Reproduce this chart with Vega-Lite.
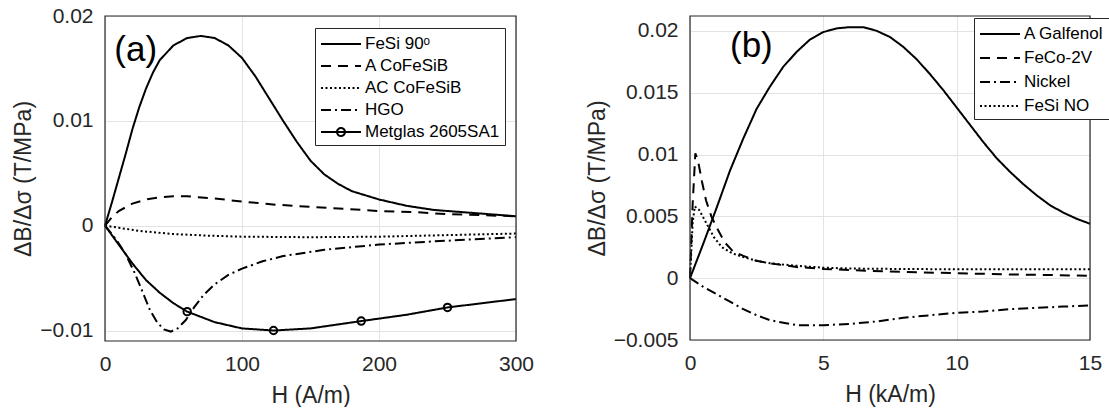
{
  "$schema": "https://vega.github.io/schema/vega-lite/v6.json",
  "padding": {"left": 12, "top": 5, "right": 0, "bottom": 0},
  "spacing": 52,
  "config": {
    "font": "Liberation Sans",
    "view": {"stroke": null},
    "axis": {"labelFontSize": 21, "titleFontSize": 23, "titleFontWeight": "normal", "labelColor": "#262626", "titleColor": "#262626", "gridColor": "#e3e3e3", "domain": false, "ticks": false, "labelPadding": 12, "labelFlush": false, "labelFont": "Liberation Sans", "titleFont": "Liberation Sans"},
    "axisX": {"titlePadding": 10},
    "axisY": {"titlePadding": 4},
    "legend": {"title": null, "orient": "none", "fillColor": "white", "strokeColor": "#262626", "padding": 5, "labelFontSize": 17, "labelFont": "Liberation Sans", "labelColor": "#000000", "symbolType": "M-1,0H3", "symbolSize": 400, "symbolStrokeWidth": 2, "symbolStrokeColor": "black", "symbolFillColor": "transparent", "labelOffset": 23, "rowPadding": 3}
  },
  "datasets": {
    "a": [
      {"series": "FeSi 90ᵒ", "H": 0, "v": 0},
      {"series": "FeSi 90ᵒ", "H": 5, "v": 0.0022},
      {"series": "FeSi 90ᵒ", "H": 10, "v": 0.0045},
      {"series": "FeSi 90ᵒ", "H": 15, "v": 0.0068},
      {"series": "FeSi 90ᵒ", "H": 20, "v": 0.0092},
      {"series": "FeSi 90ᵒ", "H": 25, "v": 0.0113},
      {"series": "FeSi 90ᵒ", "H": 30, "v": 0.0131},
      {"series": "FeSi 90ᵒ", "H": 35, "v": 0.0146},
      {"series": "FeSi 90ᵒ", "H": 40, "v": 0.0158},
      {"series": "FeSi 90ᵒ", "H": 50, "v": 0.0172},
      {"series": "FeSi 90ᵒ", "H": 60, "v": 0.0179},
      {"series": "FeSi 90ᵒ", "H": 70, "v": 0.0181},
      {"series": "FeSi 90ᵒ", "H": 80, "v": 0.0179},
      {"series": "FeSi 90ᵒ", "H": 90, "v": 0.0172},
      {"series": "FeSi 90ᵒ", "H": 100, "v": 0.016},
      {"series": "FeSi 90ᵒ", "H": 110, "v": 0.0142},
      {"series": "FeSi 90ᵒ", "H": 120, "v": 0.0121},
      {"series": "FeSi 90ᵒ", "H": 130, "v": 0.01},
      {"series": "FeSi 90ᵒ", "H": 140, "v": 0.008},
      {"series": "FeSi 90ᵒ", "H": 150, "v": 0.0062},
      {"series": "FeSi 90ᵒ", "H": 160, "v": 0.0049},
      {"series": "FeSi 90ᵒ", "H": 170, "v": 0.004},
      {"series": "FeSi 90ᵒ", "H": 180, "v": 0.0033},
      {"series": "FeSi 90ᵒ", "H": 200, "v": 0.0025},
      {"series": "FeSi 90ᵒ", "H": 220, "v": 0.0019},
      {"series": "FeSi 90ᵒ", "H": 240, "v": 0.0015},
      {"series": "FeSi 90ᵒ", "H": 260, "v": 0.0013},
      {"series": "FeSi 90ᵒ", "H": 280, "v": 0.0011},
      {"series": "FeSi 90ᵒ", "H": 300, "v": 0.0009},
      {"series": "A CoFeSiB", "H": 0, "v": 0},
      {"series": "A CoFeSiB", "H": 5, "v": 0.0008},
      {"series": "A CoFeSiB", "H": 10, "v": 0.0014},
      {"series": "A CoFeSiB", "H": 20, "v": 0.0021},
      {"series": "A CoFeSiB", "H": 30, "v": 0.0025},
      {"series": "A CoFeSiB", "H": 40, "v": 0.0027},
      {"series": "A CoFeSiB", "H": 50, "v": 0.0028},
      {"series": "A CoFeSiB", "H": 60, "v": 0.0028},
      {"series": "A CoFeSiB", "H": 80, "v": 0.0026},
      {"series": "A CoFeSiB", "H": 100, "v": 0.0023},
      {"series": "A CoFeSiB", "H": 125, "v": 0.002},
      {"series": "A CoFeSiB", "H": 150, "v": 0.0018},
      {"series": "A CoFeSiB", "H": 175, "v": 0.0016},
      {"series": "A CoFeSiB", "H": 200, "v": 0.0014},
      {"series": "A CoFeSiB", "H": 225, "v": 0.0013},
      {"series": "A CoFeSiB", "H": 250, "v": 0.0011},
      {"series": "A CoFeSiB", "H": 275, "v": 0.001},
      {"series": "A CoFeSiB", "H": 300, "v": 0.0009},
      {"series": "AC CoFeSiB", "H": 0, "v": 0},
      {"series": "AC CoFeSiB", "H": 10, "v": -0.0002},
      {"series": "AC CoFeSiB", "H": 25, "v": -0.0005},
      {"series": "AC CoFeSiB", "H": 50, "v": -0.0008},
      {"series": "AC CoFeSiB", "H": 75, "v": -0.00095},
      {"series": "AC CoFeSiB", "H": 100, "v": -0.00105},
      {"series": "AC CoFeSiB", "H": 150, "v": -0.0011},
      {"series": "AC CoFeSiB", "H": 200, "v": -0.00105},
      {"series": "AC CoFeSiB", "H": 250, "v": -0.0009},
      {"series": "AC CoFeSiB", "H": 300, "v": -0.00075},
      {"series": "HGO", "H": 0, "v": 0},
      {"series": "HGO", "H": 8, "v": -0.0013},
      {"series": "HGO", "H": 15, "v": -0.0027},
      {"series": "HGO", "H": 22, "v": -0.0046},
      {"series": "HGO", "H": 28, "v": -0.0065},
      {"series": "HGO", "H": 33, "v": -0.0081},
      {"series": "HGO", "H": 38, "v": -0.0092},
      {"series": "HGO", "H": 43, "v": -0.0099},
      {"series": "HGO", "H": 48, "v": -0.0101},
      {"series": "HGO", "H": 53, "v": -0.0098},
      {"series": "HGO", "H": 59, "v": -0.009},
      {"series": "HGO", "H": 65, "v": -0.0078},
      {"series": "HGO", "H": 72, "v": -0.0066},
      {"series": "HGO", "H": 80, "v": -0.0056},
      {"series": "HGO", "H": 90, "v": -0.0047},
      {"series": "HGO", "H": 100, "v": -0.0041},
      {"series": "HGO", "H": 115, "v": -0.0034},
      {"series": "HGO", "H": 130, "v": -0.0029},
      {"series": "HGO", "H": 160, "v": -0.0023},
      {"series": "HGO", "H": 200, "v": -0.0018},
      {"series": "HGO", "H": 240, "v": -0.0015},
      {"series": "HGO", "H": 270, "v": -0.0013},
      {"series": "HGO", "H": 300, "v": -0.0011},
      {"series": "Metglas 2605SA1", "H": 0, "v": 0},
      {"series": "Metglas 2605SA1", "H": 10, "v": -0.0018},
      {"series": "Metglas 2605SA1", "H": 20, "v": -0.0036},
      {"series": "Metglas 2605SA1", "H": 30, "v": -0.0052},
      {"series": "Metglas 2605SA1", "H": 40, "v": -0.0064},
      {"series": "Metglas 2605SA1", "H": 50, "v": -0.0074},
      {"series": "Metglas 2605SA1", "H": 60, "v": -0.0082},
      {"series": "Metglas 2605SA1", "H": 80, "v": -0.0092},
      {"series": "Metglas 2605SA1", "H": 100, "v": -0.0098},
      {"series": "Metglas 2605SA1", "H": 123, "v": -0.01},
      {"series": "Metglas 2605SA1", "H": 150, "v": -0.0098},
      {"series": "Metglas 2605SA1", "H": 187, "v": -0.0091},
      {"series": "Metglas 2605SA1", "H": 220, "v": -0.0085},
      {"series": "Metglas 2605SA1", "H": 250, "v": -0.0078},
      {"series": "Metglas 2605SA1", "H": 275, "v": -0.0074},
      {"series": "Metglas 2605SA1", "H": 300, "v": -0.007}
    ],
    "markers_a": [
      {"H": 60, "v": -0.0082},
      {"H": 123, "v": -0.01},
      {"H": 187, "v": -0.0091},
      {"H": 250, "v": -0.0078}
    ],
    "label_a": [{"H": 6.8, "v": 0.0168, "t": "(a)"}],
    "label_b": [{"H": 1.5, "v": 0.0188, "t": "(b)"}],
    "frame_a": [{"x0": 0, "x1": 300, "y0": -0.011, "y1": 0.02}],
    "frame_b": [{"x0": 0, "x1": 15, "y0": -0.005, "y1": 0.0212}],
    "b": [
      {"series": "A Galfenol", "H": 0, "v": 0},
      {"series": "A Galfenol", "H": 0.5, "v": 0.0028},
      {"series": "A Galfenol", "H": 1, "v": 0.0057},
      {"series": "A Galfenol", "H": 1.5, "v": 0.0087},
      {"series": "A Galfenol", "H": 2, "v": 0.0113},
      {"series": "A Galfenol", "H": 2.5, "v": 0.0137},
      {"series": "A Galfenol", "H": 3, "v": 0.0155},
      {"series": "A Galfenol", "H": 3.5, "v": 0.0171},
      {"series": "A Galfenol", "H": 4, "v": 0.0183},
      {"series": "A Galfenol", "H": 4.5, "v": 0.0193},
      {"series": "A Galfenol", "H": 5, "v": 0.0199},
      {"series": "A Galfenol", "H": 5.5, "v": 0.0202},
      {"series": "A Galfenol", "H": 6, "v": 0.0203},
      {"series": "A Galfenol", "H": 6.5, "v": 0.0203},
      {"series": "A Galfenol", "H": 7, "v": 0.02},
      {"series": "A Galfenol", "H": 7.5, "v": 0.0195},
      {"series": "A Galfenol", "H": 8, "v": 0.0187},
      {"series": "A Galfenol", "H": 8.5, "v": 0.0177},
      {"series": "A Galfenol", "H": 9, "v": 0.0165},
      {"series": "A Galfenol", "H": 9.5, "v": 0.0152},
      {"series": "A Galfenol", "H": 10, "v": 0.0138},
      {"series": "A Galfenol", "H": 10.5, "v": 0.0124},
      {"series": "A Galfenol", "H": 11, "v": 0.011},
      {"series": "A Galfenol", "H": 11.5, "v": 0.0097},
      {"series": "A Galfenol", "H": 12, "v": 0.0086},
      {"series": "A Galfenol", "H": 12.5, "v": 0.0076},
      {"series": "A Galfenol", "H": 13, "v": 0.0067},
      {"series": "A Galfenol", "H": 13.5, "v": 0.0059},
      {"series": "A Galfenol", "H": 14, "v": 0.0053},
      {"series": "A Galfenol", "H": 14.5, "v": 0.0048},
      {"series": "A Galfenol", "H": 15, "v": 0.0044},
      {"series": "FeCo-2V", "H": 0, "v": 0},
      {"series": "FeCo-2V", "H": 0.1, "v": 0.006},
      {"series": "FeCo-2V", "H": 0.2, "v": 0.0101},
      {"series": "FeCo-2V", "H": 0.3, "v": 0.0095},
      {"series": "FeCo-2V", "H": 0.45, "v": 0.0078},
      {"series": "FeCo-2V", "H": 0.6, "v": 0.0063},
      {"series": "FeCo-2V", "H": 0.8, "v": 0.005},
      {"series": "FeCo-2V", "H": 1, "v": 0.0041},
      {"series": "FeCo-2V", "H": 1.3, "v": 0.0029},
      {"series": "FeCo-2V", "H": 1.6, "v": 0.0022},
      {"series": "FeCo-2V", "H": 2, "v": 0.0018},
      {"series": "FeCo-2V", "H": 2.5, "v": 0.0014},
      {"series": "FeCo-2V", "H": 3, "v": 0.0012},
      {"series": "FeCo-2V", "H": 4, "v": 0.0009},
      {"series": "FeCo-2V", "H": 5, "v": 0.00075},
      {"series": "FeCo-2V", "H": 6, "v": 0.00065},
      {"series": "FeCo-2V", "H": 8, "v": 0.0005},
      {"series": "FeCo-2V", "H": 10, "v": 0.0004},
      {"series": "FeCo-2V", "H": 12, "v": 0.0003},
      {"series": "FeCo-2V", "H": 15, "v": 0.0002},
      {"series": "Nickel", "H": 0, "v": 0},
      {"series": "Nickel", "H": 0.5, "v": -0.0007},
      {"series": "Nickel", "H": 1, "v": -0.0013},
      {"series": "Nickel", "H": 1.5, "v": -0.0019},
      {"series": "Nickel", "H": 2, "v": -0.0025},
      {"series": "Nickel", "H": 2.5, "v": -0.003},
      {"series": "Nickel", "H": 3, "v": -0.0034},
      {"series": "Nickel", "H": 3.5, "v": -0.0036},
      {"series": "Nickel", "H": 4, "v": -0.0038},
      {"series": "Nickel", "H": 5, "v": -0.0038},
      {"series": "Nickel", "H": 6, "v": -0.0037},
      {"series": "Nickel", "H": 7, "v": -0.0035},
      {"series": "Nickel", "H": 8, "v": -0.0032},
      {"series": "Nickel", "H": 9, "v": -0.003},
      {"series": "Nickel", "H": 10, "v": -0.0028},
      {"series": "Nickel", "H": 11, "v": -0.0027},
      {"series": "Nickel", "H": 12, "v": -0.0025},
      {"series": "Nickel", "H": 13, "v": -0.0024},
      {"series": "Nickel", "H": 14, "v": -0.0023},
      {"series": "Nickel", "H": 15, "v": -0.0022},
      {"series": "FeSi NO", "H": 0, "v": 0},
      {"series": "FeSi NO", "H": 0.1, "v": 0.0045},
      {"series": "FeSi NO", "H": 0.18, "v": 0.0058},
      {"series": "FeSi NO", "H": 0.35, "v": 0.0055},
      {"series": "FeSi NO", "H": 0.6, "v": 0.0045},
      {"series": "FeSi NO", "H": 0.9, "v": 0.0033},
      {"series": "FeSi NO", "H": 1.2, "v": 0.0025},
      {"series": "FeSi NO", "H": 1.6, "v": 0.002},
      {"series": "FeSi NO", "H": 2, "v": 0.0017},
      {"series": "FeSi NO", "H": 2.5, "v": 0.0014},
      {"series": "FeSi NO", "H": 3, "v": 0.0012},
      {"series": "FeSi NO", "H": 4, "v": 0.001},
      {"series": "FeSi NO", "H": 5, "v": 0.00085},
      {"series": "FeSi NO", "H": 6, "v": 0.00078},
      {"series": "FeSi NO", "H": 8, "v": 0.00074},
      {"series": "FeSi NO", "H": 10, "v": 0.00072},
      {"series": "FeSi NO", "H": 12, "v": 0.00072},
      {"series": "FeSi NO", "H": 15, "v": 0.00072}
    ]
  },
  "hconcat": [
    {
      "width": 411,
      "height": 325,
      "layer": [
        {
          "data": {"name": "a"},
          "mark": {"type": "line", "color": "black", "strokeWidth": 2},
          "encoding": {
            "x": {"field": "H", "type": "quantitative", "scale": {"domain": [0, 300], "nice": false}, "axis": {"values": [0, 100, 200, 300], "title": "H (A/m)"}},
            "y": {"field": "v", "type": "quantitative", "scale": {"domain": [-0.011, 0.02], "nice": false, "zero": false}, "axis": {"values": [-0.01, 0, 0.01, 0.02], "format": "~g", "title": "ΔB/Δσ (T/MPa)"}},
            "strokeDash": {
              "field": "series", "type": "nominal",
              "scale": {"domain": ["FeSi 90ᵒ", "A CoFeSiB", "AC CoFeSiB", "HGO", "Metglas 2605SA1"], "range": [[1, 0], [10, 7], [2, 2.5], [10, 4, 2, 4], [1, 0]]},
              "legend": {"legendX": 210, "legendY": 12, "rowPadding": 3, "encode": {"symbols": {"update": {"fill": {"value": "transparent"}, "shape": {"signal": "datum.value === 'Metglas 2605SA1' ? 'M-1,0H3M1.4,0A0.4,0.4,0,1,1,0.6,0A0.4,0.4,0,1,1,1.4,0' : 'M-1,0H3'"}}}}}
            }
          }
        },
        {
          "data": {"name": "markers_a"},
          "mark": {"type": "point", "filled": false, "stroke": "black", "strokeWidth": 2, "size": 55, "opacity": 1},
          "encoding": {
            "x": {"field": "H", "type": "quantitative"},
            "y": {"field": "v", "type": "quantitative"}
          }
        },
        {
          "data": {"name": "label_a"},
          "mark": {"type": "text", "fontSize": 35, "align": "left", "baseline": "middle", "color": "black", "font": "Liberation Sans"},
          "encoding": {
            "x": {"field": "H", "type": "quantitative"},
            "y": {"field": "v", "type": "quantitative"},
            "text": {"field": "t"}
          }
        },
        {
          "data": {"name": "frame_a"},
          "mark": {"type": "rect", "fill": "transparent", "stroke": "#262626", "strokeWidth": 1.2},
          "encoding": {
            "x": {"field": "x0", "type": "quantitative"},
            "x2": {"field": "x1"},
            "y": {"field": "y0", "type": "quantitative"},
            "y2": {"field": "y1"}
          }
        }
      ]
    },
    {
      "width": 400,
      "height": 324,
      "layer": [
        {
          "data": {"name": "b"},
          "mark": {"type": "line", "color": "black", "strokeWidth": 2},
          "encoding": {
            "x": {"field": "H", "type": "quantitative", "scale": {"domain": [0, 15], "nice": false}, "axis": {"values": [0, 5, 10, 15], "title": "H (kA/m)"}},
            "y": {"field": "v", "type": "quantitative", "scale": {"domain": [-0.005, 0.0212], "nice": false, "zero": false}, "axis": {"values": [-0.005, 0, 0.005, 0.01, 0.015, 0.02], "format": "~g", "title": "ΔB/Δσ (T/MPa)"}},
            "strokeDash": {
              "field": "series", "type": "nominal",
              "scale": {"domain": ["A Galfenol", "FeCo-2V", "Nickel", "FeSi NO"], "range": [[1, 0], [10, 7], [10, 4, 2, 4], [2, 2.5]]},
              "legend": {"legendX": 284, "legendY": 2, "rowPadding": 5}
            }
          }
        },
        {
          "data": {"name": "label_b"},
          "mark": {"type": "text", "fontSize": 35, "align": "left", "baseline": "middle", "color": "black", "font": "Liberation Sans"},
          "encoding": {
            "x": {"field": "H", "type": "quantitative"},
            "y": {"field": "v", "type": "quantitative"},
            "text": {"field": "t"}
          }
        },
        {
          "data": {"name": "frame_b"},
          "mark": {"type": "rect", "fill": "transparent", "stroke": "#262626", "strokeWidth": 1.2},
          "encoding": {
            "x": {"field": "x0", "type": "quantitative"},
            "x2": {"field": "x1"},
            "y": {"field": "y0", "type": "quantitative"},
            "y2": {"field": "y1"}
          }
        }
      ]
    }
  ],
  "resolve": {"scale": {"strokeDash": "independent"}, "legend": {"strokeDash": "independent"}}
}
